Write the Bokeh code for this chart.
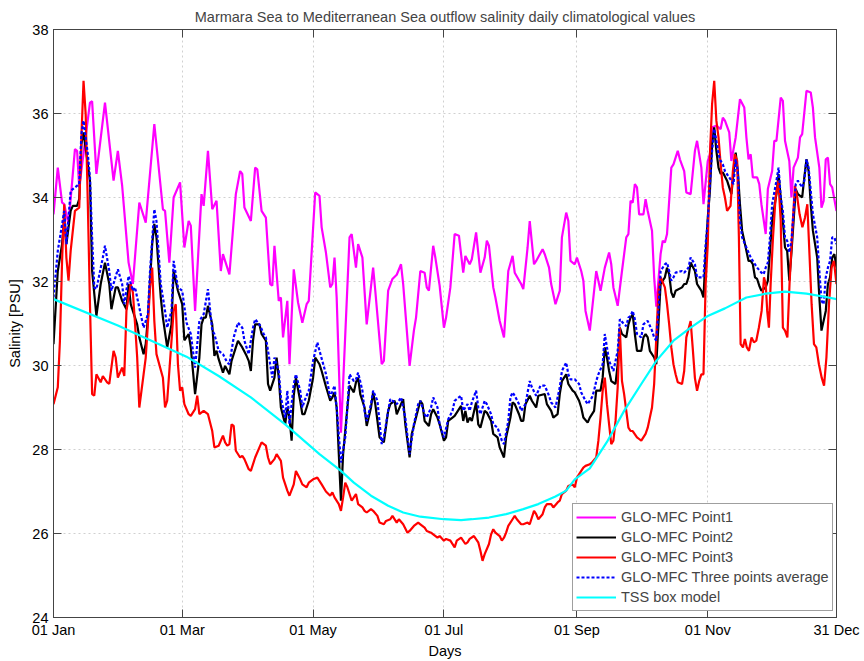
from bokeh.plotting import figure
from bokeh.models import FixedTicker, LinearAxis, Range1d, Legend, LegendItem
from bokeh.embed import file_html
from bokeh.resources import INLINE

# ---------------- data (day of year index 0..365, salinity PSU) ----------------
x_ticks = [0, 60, 121, 182, 244, 305, 365]
x_tick_labels = ["01 Jan", "01 Mar", "01 May", "01 Jul", "01 Sep", "01 Nov", "31 Dec"]
y_ticks = [24, 26, 28, 30, 32, 34, 36, 38]

p1_day = [0, 2, 4, 5, 7, 10, 11, 12, 17, 18, 20, 24, 28, 30, 32, 35, 37, 40, 43, 47, 51, 52, 54, 56, 59,
          61, 63, 64, 66, 69, 70, 72, 74, 76, 78, 79, 82, 85, 87, 88, 89, 92, 94, 95, 97, 99, 101, 102,
          103, 105, 106, 107, 109, 110, 112, 114, 116, 118, 119, 122, 124, 125, 127, 129, 130, 131, 132,
          134, 138, 139, 141, 142, 144, 146, 149, 150, 153, 154, 156, 158, 160, 162, 163, 166, 168, 169,
          171, 173, 174, 175, 177, 178, 180, 182, 183, 185, 187, 189, 191, 192, 194, 195, 197, 199, 201,
          202, 203, 205, 206, 208, 210, 212, 214, 215, 218, 219, 221, 222, 224, 225, 228, 229, 231, 232,
          234, 236, 237, 239, 240, 241, 243, 244, 246, 247, 248, 250, 253, 255, 257, 259, 260, 261, 263,
          265, 267, 268, 269, 270, 271, 272, 273, 275, 276, 277, 279, 280, 281, 283, 284, 285, 286, 288,
          289, 291, 292, 294, 295, 297, 299, 300, 302, 303, 305, 306, 307, 309, 311, 312, 313, 315, 316,
          318, 320, 322, 323, 324, 325, 326, 328, 329, 330, 332, 333, 335, 336, 337, 339, 340, 341, 343,
          344, 345, 347, 348, 349, 351, 353, 354, 355, 357, 358, 359, 360, 361, 362, 363, 365]
p1_sal = [33.60, 34.71, 33.88, 33.84, 33.37, 35.15, 35.11, 34.24, 36.26, 36.29, 34.56, 36.26, 34.40, 35.11,
          34.28, 32.45, 31.94, 33.88, 33.40, 35.75, 33.72, 33.68, 32.45, 34.00, 34.36, 32.81, 33.44, 33.33,
          31.30, 34.08, 33.80, 35.11, 33.72, 33.92, 32.25, 32.65, 32.17, 34.08, 34.63, 34.56, 33.76, 33.44,
          34.71, 34.67, 33.68, 33.52, 31.94, 31.90, 32.85, 31.54, 31.62, 30.67, 31.54, 30.03, 32.29, 31.50,
          31.02, 31.46, 31.54, 34.12, 34.04, 33.29, 32.69, 31.86, 31.94, 32.57, 31.62, 28.40, 33.05, 33.13,
          32.33, 32.89, 32.57, 30.98, 32.33, 31.78, 30.03, 30.11, 31.78, 32.06, 32.16, 32.41, 31.94, 29.99,
          30.83, 31.14, 32.25, 32.21, 31.86, 31.78, 32.85, 32.57, 31.90, 30.90, 31.14, 31.86, 33.13, 33.09,
          32.21, 32.61, 32.41, 32.53, 33.17, 32.21, 32.57, 32.97, 32.85, 31.86, 31.62, 31.06, 30.67, 32.25,
          32.61, 32.21, 31.94, 31.82, 32.81, 33.44, 32.41, 32.49, 32.77, 32.65, 32.33, 31.94, 31.46, 31.78,
          33.05, 33.64, 33.44, 32.49, 32.41, 32.57, 32.25, 32.02, 31.30, 30.83, 32.25, 31.78, 32.33, 32.69,
          32.41, 31.86, 31.42, 32.25, 33.05, 33.13, 33.92, 33.88, 34.32, 34.24, 33.60, 33.60, 33.96, 33.68,
          33.21, 32.10, 31.40, 32.65, 32.97, 32.93, 33.13, 34.71, 34.79, 35.11, 34.91, 34.63, 34.12, 34.08,
          35.11, 35.35, 34.71, 33.84, 34.87, 35.03, 35.67, 35.71, 35.63, 35.90, 35.83, 35.55, 34.87, 35.43,
          36.34, 36.14, 35.43, 34.91, 35.03, 34.48, 34.48, 34.32, 33.84, 33.13, 34.20, 34.63, 35.35, 35.35,
          36.38, 36.30, 35.35, 34.87, 34.00, 34.71, 34.95, 35.43, 35.51, 36.54, 36.50, 36.14, 35.43, 34.71,
          33.76, 33.92, 34.91, 34.95, 34.32, 34.24, 33.68]

p2_day = [0, 2, 4, 5, 6, 8, 9, 11, 12, 13, 14, 16, 17, 18, 20, 22, 24, 26, 27, 29, 30, 32, 34, 35, 36, 39,
          40, 42, 43, 44, 46, 47, 48, 50, 51, 53, 55, 56, 58, 60, 61, 63, 64, 66, 68, 69, 70, 71, 72, 74,
          75, 76, 77, 79, 80, 82, 83, 85, 86, 88, 90, 91, 92, 93, 94, 96, 97, 99, 100, 101, 103, 104, 105,
          106, 108, 109, 110, 111, 112, 113, 115, 116, 117, 119, 121, 122, 124, 125, 127, 129, 130, 131,
          132, 134, 135, 137, 138, 139, 140, 141, 142, 143, 145, 146, 148, 149, 150, 152, 154, 156, 157,
          159, 160, 162, 163, 164, 166, 167, 169, 171, 172, 173, 175, 176, 177, 179, 180, 182, 183, 184,
          186, 187, 190, 191, 192, 193, 194, 195, 197, 198, 199, 201, 202, 204, 205, 207, 208, 210, 211,
          213, 214, 215, 217, 218, 219, 220, 222, 223, 225, 226, 229, 230, 232, 233, 235, 236, 237, 239,
          240, 242, 243, 245, 246, 247, 249, 250, 252, 253, 255, 256, 257, 258, 259, 260, 262, 263, 264,
          265, 267, 268, 269, 270, 271, 272, 274, 275, 276, 277, 278, 280, 281, 282, 283, 285, 286, 287,
          288, 289, 290, 293, 294, 295, 296, 297, 299, 300, 301, 302, 303, 304, 305, 306, 307, 308, 309,
          310, 311, 312, 314, 316, 318, 319, 320, 321, 323, 324, 325, 326, 327, 328, 329, 330, 332, 333,
          334, 335, 337, 338, 339, 340, 341, 342, 343, 344, 345, 346, 347, 349, 350, 351, 352, 353, 354,
          356, 357, 358, 360, 361, 362, 363, 364, 365]
p2_sal = [30.51, 32.25, 32.89, 33.52, 32.89, 33.68, 33.80, 33.80, 33.96, 35.27, 35.55, 34.79, 34.40, 32.25,
          31.18, 31.94, 32.45, 31.94, 31.34, 31.86, 31.86, 31.54, 31.34, 31.94, 31.46, 30.98, 30.67, 30.27,
          30.51, 31.14, 32.89, 33.37, 33.05, 31.62, 31.14, 30.43, 30.98, 32.25, 31.78, 31.46, 30.60, 30.75,
          30.43, 29.32, 30.19, 30.98, 31.14, 31.14, 31.42, 30.98, 30.23, 30.35, 30.15, 29.83, 29.99, 29.79,
          30.11, 30.43, 30.59, 30.43, 30.23, 30.11, 29.87, 30.59, 30.98, 30.98, 30.75, 30.59, 29.56, 29.40,
          29.71, 30.19, 29.71, 29.00, 28.60, 29.00, 28.76, 28.21, 29.28, 29.71, 29.16, 28.84, 28.84, 29.16,
          29.71, 30.19, 30.03, 29.87, 29.50, 29.16, 29.24, 29.36, 29.00, 26.78, 27.89, 29.00, 29.52, 29.44,
          29.36, 29.60, 29.71, 29.32, 29.00, 28.56, 29.00, 29.36, 29.08, 28.29, 28.17, 28.92, 29.08, 29.16,
          28.84, 29.08, 29.20, 28.60, 27.81, 28.37, 28.76, 29.16, 29.08, 28.68, 28.56, 28.84, 28.96, 28.76,
          28.60, 28.21, 28.29, 28.68, 28.76, 28.80, 29.04, 28.68, 28.92, 28.64, 28.76, 28.68, 29.12, 28.60,
          28.52, 28.92, 28.88, 28.68, 28.37, 28.29, 28.05, 27.81, 28.29, 28.76, 29.12, 29.08, 28.84, 28.68,
          28.68, 29.08, 29.28, 29.16, 29.00, 29.28, 29.32, 29.08, 28.92, 28.76, 28.84, 29.32, 29.63, 29.79,
          29.56, 29.40, 29.36, 29.16, 29.00, 28.76, 28.64, 28.76, 28.92, 29.40, 29.40, 29.71, 30.43, 30.19,
          29.87, 29.63, 29.56, 30.03, 30.90, 30.75, 30.67, 30.98, 31.14, 31.22, 30.75, 30.35, 30.35, 30.67,
          30.75, 30.67, 30.35, 30.19, 30.03, 30.98, 31.94, 32.10, 32.33, 32.17, 31.74, 31.62, 31.78, 31.86,
          31.94, 31.94, 32.10, 32.45, 32.25, 31.94, 31.86, 31.78, 31.62, 32.65, 33.52, 34.16, 35.27, 35.67,
          35.11, 34.71, 34.56, 34.60, 34.40, 34.08, 35.07, 34.63, 33.84, 33.21, 32.73, 32.49, 32.49, 32.41,
          32.10, 32.06, 31.90, 31.78, 31.86, 32.02, 32.73, 33.44, 34.08, 34.56, 34.00, 33.44, 32.81, 32.73,
          32.02, 32.69, 33.44, 34.20, 34.08, 34.00, 34.48, 34.91, 34.63, 33.84, 33.21, 32.57, 31.62, 30.83,
          31.30, 31.94, 32.10, 32.57, 32.65, 32.33]

p3_day = [0, 2, 3, 4, 5, 6, 7, 8, 10, 12, 13, 14, 15, 16, 17, 18, 19, 20, 22, 23, 25, 26, 28, 29, 30, 32,
          33, 34, 36, 37, 38, 39, 40, 42, 43, 44, 45, 46, 47, 48, 51, 52, 53, 54, 56, 57, 58, 59, 60, 61,
          63, 64, 66, 67, 68, 70, 72, 74, 75, 77, 79, 80, 81, 82, 83, 84, 85, 87, 88, 89, 91, 92, 94, 96,
          97, 99, 100, 101, 103, 104, 106, 107, 109, 110, 112, 113, 115, 116, 118, 119, 121, 123, 125,
          127, 129, 130, 131, 133, 134, 135, 136, 137, 139, 140, 141, 142, 144, 145, 146, 148, 149, 151,
          152, 154, 155, 157, 158, 160, 161, 163, 165, 166, 168, 170, 171, 173, 174, 176, 177, 179, 180,
          182, 183, 185, 187, 188, 190, 192, 193, 194, 196, 198, 199, 200, 201, 203, 204, 205, 206, 208,
          209, 210, 211, 212, 214, 215, 216, 218, 219, 221, 222, 223, 224, 225, 226, 228, 229, 230, 232,
          233, 235, 236, 237, 239, 240, 242, 243, 244, 246, 247, 248, 250, 251, 253, 254, 255, 256, 257,
          258, 259, 260, 261, 262, 263, 264, 265, 266, 267, 268, 269, 270, 272, 273, 274, 276, 277, 278,
          279, 280, 281, 282, 283, 285, 286, 287, 288, 289, 290, 291, 293, 294, 295, 297, 298, 299, 300,
          301, 302, 303, 304, 305, 306, 307, 308, 309, 310, 311, 312, 313, 314, 315.6, 316.7, 317.6, 318.7,
          319.5, 320.3, 321.4, 322.3, 323.2, 324.2, 325.4, 326.5, 327.6, 328.8, 330.1, 331.2, 332.0, 332.7,
          333.5, 334.3, 335.4, 336.6, 337.9, 339.0, 340.0, 341.0, 342.1, 343.1, 344.4, 345.6, 346.7, 347.8,
          349.1, 350.3, 351.4, 352.2, 353.4, 354.5, 355.6, 356.8, 358.1, 359.2, 360.3, 361.5, 362.7, 363.8,
          365.0]
p3_sal = [29.08, 29.48, 30.59, 32.49, 33.84, 32.57, 32.02, 32.73, 33.68, 33.76, 35.43, 36.78, 35.98, 33.84,
          31.46, 29.32, 29.28, 29.79, 29.60, 29.75, 29.60, 29.56, 30.35, 30.19, 29.71, 29.95, 29.75, 31.30,
          31.94, 31.74, 31.00, 30.20, 29.00, 29.79, 30.19, 30.98, 31.86, 32.33, 31.06, 30.27, 29.71, 29.00,
          29.16, 29.87, 31.30, 31.46, 30.03, 29.40, 29.48, 29.08, 28.84, 28.80, 28.96, 29.28, 28.84, 28.92,
          28.84, 28.44, 28.05, 28.09, 28.33, 28.17, 28.09, 28.13, 28.60, 28.56, 27.97, 27.81, 27.85, 27.77,
          27.53, 27.49, 27.81, 28.05, 28.17, 28.09, 27.81, 27.65, 27.77, 27.89, 27.73, 27.33, 27.02, 26.90,
          27.17, 27.49, 27.29, 27.17, 27.10, 27.21, 27.29, 27.33, 27.17, 27.00, 26.90, 26.98, 26.86, 26.70,
          26.54, 26.86, 27.21, 27.10, 26.78, 26.86, 26.94, 26.70, 26.62, 26.54, 26.50, 26.58, 26.54, 26.42,
          26.26, 26.22, 26.30, 26.34, 26.42, 26.26, 26.34, 26.22, 26.02, 26.06, 26.18, 26.26, 26.22, 26.14,
          26.06, 26.02, 25.98, 25.90, 25.94, 25.83, 25.87, 25.83, 25.67, 25.83, 25.90, 25.75, 25.79, 25.87,
          25.94, 25.79, 25.59, 25.35, 25.51, 25.75, 25.98, 26.10, 26.02, 25.94, 25.83, 25.90, 26.02, 26.18,
          26.34, 26.42, 26.34, 26.22, 26.22, 26.26, 26.22, 26.38, 26.54, 26.46, 26.34, 26.46, 26.62, 26.70,
          26.70, 26.62, 26.74, 26.78, 26.94, 27.02, 27.13, 27.17, 27.10, 27.33, 27.49, 27.57, 27.61, 27.65,
          27.69, 27.81, 28.21, 28.76, 29.40, 29.71, 29.08, 28.60, 28.13, 28.21, 28.68, 29.48, 30.90, 29.63,
          29.32, 28.92, 28.52, 28.44, 28.44, 28.29, 28.25, 28.21, 28.37, 28.52, 28.76, 29.00, 29.56, 30.67,
          31.78, 32.10, 31.86, 31.46, 30.98, 30.43, 30.03, 29.79, 29.60, 29.56, 29.87, 30.67, 31.06, 30.40,
          29.70, 29.40, 29.63, 29.79, 29.79, 31.94, 32.89, 35.03, 36.22, 36.78, 35.83, 35.43, 34.79, 34.24,
          34.00, 33.68, 33.80, 34.63, 35.03, 34.87, 33.05, 30.51, 30.43, 30.63, 30.43, 30.35, 30.67, 30.55,
          30.59, 30.90, 31.30, 32.10, 31.94, 31.30, 30.90, 31.94, 33.05, 34.00, 34.40, 33.44, 30.90, 30.83,
          30.67, 31.94, 33.21, 34.28, 34.00, 33.60, 33.29, 33.52, 33.84, 32.89, 31.46, 30.51, 30.43, 30.03,
          29.71, 29.52, 30.19, 31.46, 32.33, 32.49, 31.94]

avg_day = [0, 2, 5, 6, 8, 10, 12, 13, 14, 16, 17, 18, 19, 20, 23, 24, 26, 27, 30, 32, 33, 35, 37, 38, 40, 42,
           44, 45, 47, 48, 50, 52, 53, 55, 56, 58, 60, 62, 64, 66, 68, 70, 72, 74, 75, 77, 79, 81, 82, 84,
           86, 88, 89, 91, 93, 94, 96, 98, 99, 101, 102, 103, 105, 106, 108, 109, 110, 112, 113, 115, 116,
           117, 119, 121, 123, 124, 127, 129, 131, 132, 134, 136, 137, 138, 140, 141, 142, 144, 145, 146,
           148, 149, 151, 153, 154, 156, 157, 160, 162, 164, 166, 168, 170, 171, 173, 174, 176, 177, 179,
           180, 182, 184, 186, 187, 190, 191, 192, 193, 194, 195, 197, 198, 199, 201, 202, 204, 205, 207,
           208, 209, 210, 212, 213, 214, 215, 217, 218, 220, 222, 223, 225, 226, 227, 229, 231, 232, 234,
           236, 237, 239, 240, 241, 243, 245, 246, 248, 249, 251, 252, 253, 254, 256, 257, 258, 259, 261,
           263, 264, 266, 267, 268, 269, 270, 271, 272, 274, 275, 277, 279, 280, 281, 282, 283, 285, 286,
           287, 288, 289, 290, 293, 294, 296, 297, 299, 300, 302, 303, 304, 305, 306, 307, 308, 309, 310,
           311, 312, 313, 316, 317, 318, 319, 320, 321, 323, 324, 325, 327, 328, 330, 331, 332, 333, 334,
           335, 337, 338, 339, 340, 341, 342, 343, 344, 345, 346, 347, 349, 350, 351, 352, 353, 354, 356,
           357, 358, 359, 360, 361, 362, 363, 364, 365]
avg_sal = [31.62, 32.73, 33.68, 32.89, 34.16, 34.24, 34.32, 35.51, 35.83, 35.03, 34.48, 33.05, 31.86, 31.82,
           32.57, 32.85, 32.25, 31.78, 32.29, 31.94, 31.46, 32.13, 31.78, 31.86, 31.38, 30.90, 31.22, 32.25,
           33.72, 33.44, 31.94, 31.30, 30.90, 31.30, 32.49, 31.86, 31.78, 31.02, 30.75, 29.95, 31.06, 31.22,
           31.82, 30.83, 30.75, 30.35, 30.27, 30.07, 30.03, 30.67, 31.02, 30.90, 30.59, 30.27, 30.90, 31.10,
           30.98, 30.75, 30.67, 30.03, 29.71, 30.19, 29.87, 29.24, 28.76, 29.40, 28.60, 29.56, 29.79, 29.40,
           29.00, 29.16, 29.40, 30.11, 30.55, 30.35, 29.80, 29.24, 29.52, 29.00, 27.69, 28.29, 29.00, 29.79,
           29.63, 29.67, 29.83, 29.40, 28.92, 28.68, 29.08, 29.40, 29.16, 28.13, 28.29, 28.92, 29.20, 29.08,
           29.24, 28.76, 27.89, 28.60, 29.08, 29.16, 28.84, 28.76, 29.00, 29.24, 29.00, 28.60, 28.29, 28.72,
           28.92, 29.16, 29.28, 28.92, 29.00, 29.08, 28.92, 29.12, 29.40, 29.00, 28.84, 29.16, 29.08, 28.84,
           28.60, 28.52, 28.37, 28.21, 28.13, 28.68, 29.24, 29.36, 29.28, 29.08, 28.92, 29.08, 29.63, 29.48,
           29.28, 29.40, 29.52, 29.52, 29.28, 29.12, 29.00, 29.48, 29.87, 30.07, 29.79, 29.67, 29.67, 29.56,
           29.36, 29.16, 29.08, 29.24, 29.40, 29.63, 29.79, 30.03, 30.75, 30.43, 30.11, 29.87, 30.35, 31.10,
           30.98, 30.94, 31.14, 31.18, 31.30, 31.10, 30.75, 30.67, 30.98, 31.06, 30.83, 30.67, 30.59, 31.30,
           32.25, 32.41, 32.45, 32.25, 32.02, 32.10, 32.21, 32.25, 32.21, 32.33, 32.57, 32.41, 32.10, 32.10,
           32.10, 32.89, 33.44, 34.32, 35.11, 35.63, 35.35, 35.03, 34.87, 34.79, 34.63, 34.40, 34.32, 34.91,
           34.63, 33.44, 33.05, 32.81, 32.69, 32.57, 32.41, 32.33, 32.21, 32.17, 32.33, 32.45, 33.05, 33.84,
           34.40, 34.71, 34.00, 33.68, 33.05, 32.97, 32.69, 32.97, 33.68, 34.32, 34.40, 34.24, 34.40, 34.91,
           34.71, 34.16, 33.60, 33.05, 32.25, 31.54, 31.46, 32.10, 32.33, 32.49, 33.05, 33.05, 32.89]

tss_day = [0, 30, 62, 77, 92, 108, 124, 134, 140, 148, 156, 163, 171, 182, 190, 195, 203, 211, 219, 226, 234,
           239, 243, 250, 258, 266, 274, 281, 289, 297, 305, 313, 323, 332, 341, 351, 360, 365]
tss_sal = [31.58, 30.95, 30.21, 29.75, 29.24, 28.60, 27.89, 27.49, 27.21, 26.90, 26.66, 26.50, 26.40, 26.34,
           26.32, 26.34, 26.38, 26.46, 26.58, 26.70, 26.88, 27.02, 27.29, 27.55, 28.18, 28.92, 29.56, 30.11,
           30.59, 30.90, 31.18, 31.36, 31.62, 31.71, 31.76, 31.71, 31.63, 31.58]

FONT = "Liberation Sans"
FS = "14.5px"
AX = "#444444"

p = figure(width=864, height=661, output_backend="svg", toolbar_location=None,
           x_range=Range1d(0, 365), y_range=Range1d(24, 38),
           min_border_left=53, min_border_right=28, min_border_top=29, min_border_bottom=44,
           title="Marmara Sea to Mediterranean Sea outflow salinity daily climatological values")
p.title.text_font = FONT
p.title.text_font_size = FS
p.title.text_font_style = "normal"
p.title.align = "center"
p.title.standoff = 9
p.outline_line_color = AX
p.background_fill_color = "white"
p.border_fill_color = "white"

xticker = FixedTicker(ticks=x_ticks)
yticker = FixedTicker(ticks=y_ticks)

bottom = p.below[0]
left = p.left[0]
bottom.ticker = xticker
bottom.major_label_overrides = {t: l for t, l in zip(x_ticks, x_tick_labels)}
left.ticker = yticker
bottom.axis_label = "Days"
left.axis_label = "Salinity [PSU]"

top = LinearAxis(ticker=xticker, major_label_text_color=None)
right = LinearAxis(ticker=yticker, major_label_text_color=None)
p.add_layout(top, "above")
p.add_layout(right, "right")

for ax in [bottom, left, top, right]:
    ax.major_tick_in = 8
    ax.major_tick_out = 0
    ax.minor_tick_line_color = None
    ax.axis_line_color = AX
    ax.major_tick_line_color = AX
    ax.major_label_text_font = FONT
    ax.axis_label_text_font = FONT
    ax.axis_label_text_font_size = FS
    ax.axis_label_text_font_style = "normal"
    ax.axis_label_text_color = "black"
for ax in [bottom, left]:
    ax.major_label_text_color = "black"
    ax.major_label_text_font_size = FS
for ax in [top, right]:
    ax.major_label_standoff = 0
bottom.major_label_standoff = 4
left.major_label_standoff = 5
bottom.axis_label_standoff = 2
left.axis_label_standoff = 6

p.xgrid.ticker = xticker
p.ygrid.ticker = yticker
for g in [p.xgrid[0], p.ygrid[0]]:
    g.grid_line_color = "#d0d0d0"
    g.grid_line_dash = "2 3"
    g.grid_line_width = 1

r1 = p.line(p1_day, p1_sal, line_color="#ff00ff", line_width=2.2)
r2 = p.line(p2_day, p2_sal, line_color="black", line_width=2.2)
r3 = p.line(p3_day, p3_sal, line_color="#ff0000", line_width=2.2)
r4 = p.line(avg_day, avg_sal, line_color="#0000ff", line_width=2.2, line_dash="3 2")
r5 = p.line(tss_day, tss_sal, line_color="#00ffff", line_width=2.2)

legend = Legend(items=[
    LegendItem(label="GLO-MFC Point1", renderers=[r1]),
    LegendItem(label="GLO-MFC Point2", renderers=[r2]),
    LegendItem(label="GLO-MFC Point3", renderers=[r3]),
    LegendItem(label="GLO-MFC Three points average", renderers=[r4]),
    LegendItem(label="TSS box model", renderers=[r5]),
], location=(519, 6))
legend.margin = 0
legend.padding = 3
legend.spacing = 0
legend.label_height = 20
legend.glyph_height = 20
legend.glyph_width = 40
legend.label_standoff = 5
legend.label_text_font = FONT
legend.label_text_font_size = FS
legend.border_line_color = "#404040"
legend.border_line_width = 1
legend.background_fill_color = "white"
legend.background_fill_alpha = 1.0
p.add_layout(legend)

open("out.html", "w").write(file_html(p, INLINE))
